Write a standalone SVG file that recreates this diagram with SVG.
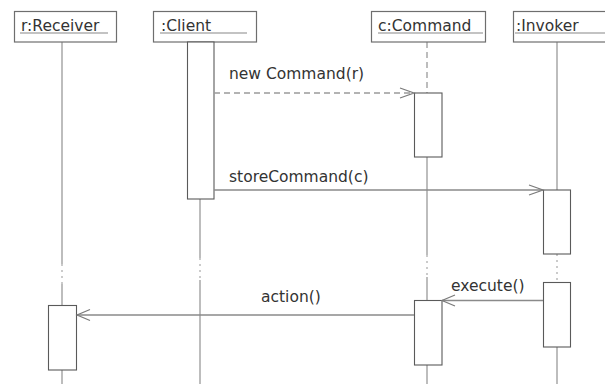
<svg xmlns="http://www.w3.org/2000/svg" width="605" height="384" viewBox="0 0 605 384">
<style>
.box{fill:#fff;stroke:#6e6e6e;stroke-width:1.2}
.act{fill:#fff;stroke:#5a5a5a;stroke-width:1.1}
.life{stroke:#9a9a9a;stroke-width:1.3;fill:none}
.dash{stroke:#9a9a9a;stroke-width:1.3;stroke-dasharray:6 4;fill:none}
.dot{stroke:#b0b0b0;stroke-width:1.3;stroke-dasharray:2 4;fill:none}
.ul{stroke:#888;stroke-width:1.2}
.msg{stroke:#8a8a8a;stroke-width:1.3;fill:none}
.head{stroke:#7a7a7a;stroke-width:1.2;fill:none}
text{font-family:"DejaVu Sans","Liberation Sans",sans-serif;font-size:15.5px;fill:#333}
</style>
<rect width="605" height="384" fill="#fff"/>
<g id="lifelines">
<line class="life" x1="62" y1="42" x2="62" y2="264"/>
<line class="dot" x1="62" y1="264" x2="62" y2="284"/>
<line class="life" x1="62" y1="284" x2="62" y2="305"/>
<line class="life" x1="62" y1="370" x2="62" y2="384"/>
<line class="life" x1="200" y1="199" x2="200" y2="258"/>
<line class="dot" x1="200" y1="258" x2="200" y2="280"/>
<line class="life" x1="200" y1="280" x2="200" y2="384"/>
<line class="dash" x1="427" y1="42" x2="427" y2="93"/>
<line class="life" x1="427" y1="157" x2="427" y2="255"/>
<line class="dot" x1="427" y1="255" x2="427" y2="277"/>
<line class="life" x1="427" y1="277" x2="427" y2="300"/>
<line class="life" x1="427" y1="365" x2="427" y2="384"/>
<line class="life" x1="557" y1="42" x2="557" y2="190"/>
<line class="dot" x1="557" y1="254" x2="557" y2="282"/>
<line class="life" x1="557" y1="347" x2="557" y2="384"/>
</g>
<g id="receiver">
<rect class="box" x="14.5" y="11.5" width="102" height="30.5"/>
<text x="21" y="31">r:Receiver</text>
<line class="ul" x1="20" y1="33" x2="108" y2="33"/>
<rect class="act" x="48.5" y="305.5" width="28" height="64.5"/>
</g>
<g id="client">
<rect class="box" x="153.5" y="11.5" width="103" height="30.5"/>
<text x="161" y="31">:Client</text>
<line class="ul" x1="160" y1="33" x2="247" y2="33"/>
<rect class="act" x="187.5" y="42" width="26.5" height="157"/>
</g>
<g id="command">
<rect class="box" x="371.5" y="11.5" width="114" height="30.5"/>
<text x="378" y="31">c:Command</text>
<line class="ul" x1="378" y1="33" x2="483" y2="33"/>
<rect class="act" x="414.5" y="93" width="27.5" height="64"/>
<rect class="act" x="414.5" y="300.5" width="27.5" height="64.5"/>
</g>
<g id="invoker">
<rect class="box" x="513.5" y="11.5" width="100" height="30.5"/>
<text x="516" y="31">:Invoker</text>
<line class="ul" x1="515" y1="33" x2="605" y2="33"/>
<rect class="act" x="543.5" y="190" width="27" height="64"/>
<rect class="act" x="543.5" y="282.5" width="27" height="64.5"/>
</g>
<g id="connectors">
<line class="dash" x1="214" y1="93" x2="414" y2="93"/>
<polyline class="head" points="400,88 414,93 400,98"/>
<text x="229" y="79">new Command(r)</text>
<line class="msg" x1="214" y1="190" x2="543" y2="190"/>
<polyline class="head" points="529,185 543,190 529,195"/>
<text x="229" y="182">storeCommand(c)</text>
<line class="msg" x1="543" y1="300.5" x2="442" y2="300.5"/>
<polyline class="head" points="455,295 442,300.5 455,306"/>
<text x="451" y="291">execute()</text>
<line class="msg" x1="414" y1="315" x2="77" y2="315"/>
<polyline class="head" points="90,309.5 77,315 90,320.5"/>
<text x="261" y="302">action()</text>
</g>
</svg>
